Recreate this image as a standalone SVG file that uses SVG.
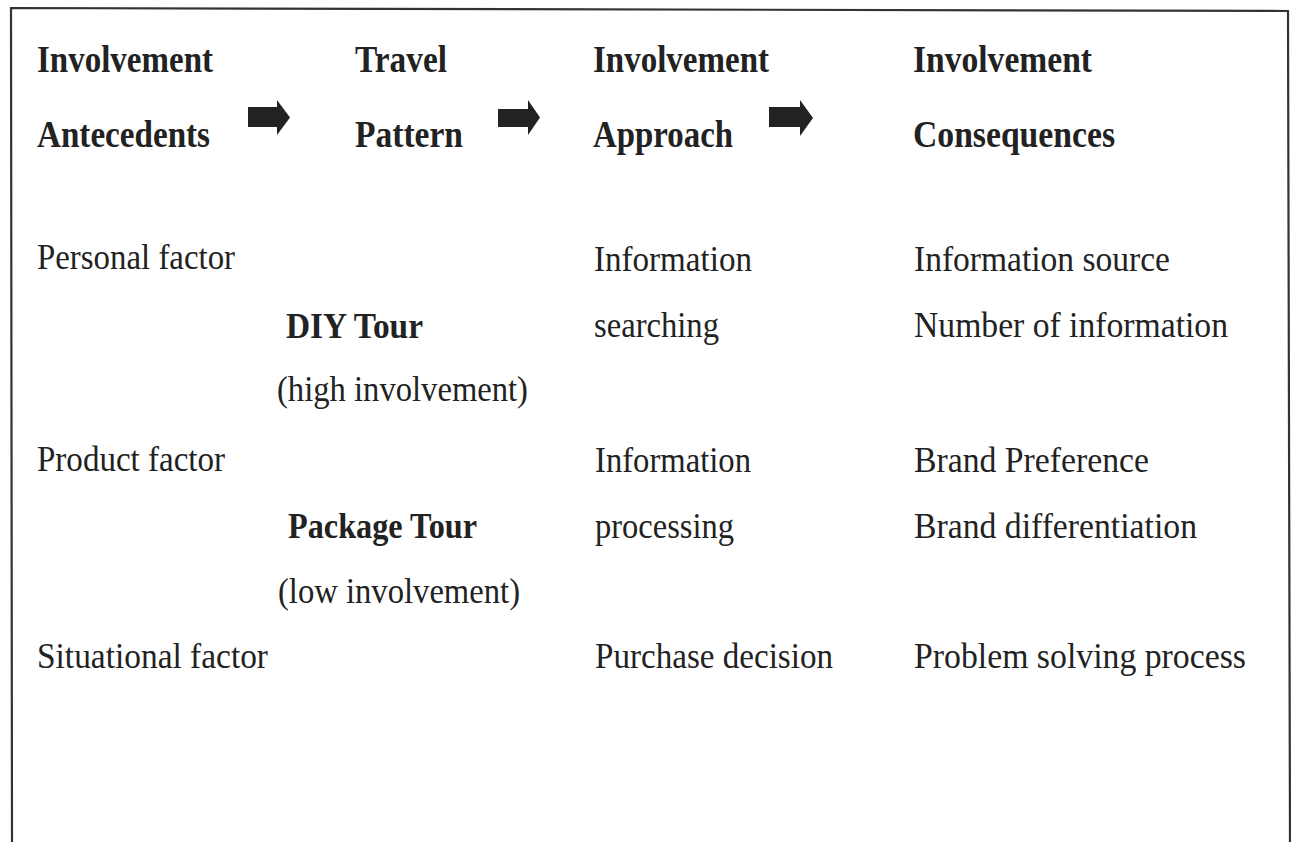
<svg xmlns="http://www.w3.org/2000/svg" width="1291" height="842" viewBox="0 0 1291 842">
<style>
text { font-family: "Liberation Serif", "Times New Roman", serif; fill: #222; }
.h { font-size: 37px; font-weight: bold; }
.b { font-size: 35px; font-weight: bold; }
.r { font-size: 35px; }
.frame { fill: none; stroke: #333; stroke-width: 2.2; }
.arrow { fill: #222; }
</style>
<rect x="0" y="0" width="1291" height="842" fill="#fff"/>
<path class="frame" d="M12,842 L11,8 L1288,11 L1290,842"/>

<g id="connectors">
  <path class="arrow" d="M248,107 L277,107 L277,100 L290,117.5 L277,135 L277,127 L248,127 Z"/>
  <path class="arrow" d="M498,109 L528,109 L528,100 L540,117.5 L528,135 L528,127 L498,127 Z"/>
  <path class="arrow" d="M769,107 L800,107 L800,100 L813,118 L800,136 L800,127 L769,127 Z"/>
</g>

<g id="header-antecedents">
  <text class="h" x="37" y="72" textLength="176" lengthAdjust="spacingAndGlyphs">Involvement</text>
  <text class="h" x="37" y="147" textLength="173" lengthAdjust="spacingAndGlyphs">Antecedents</text>
</g>
<g id="header-travel-pattern">
  <text class="h" x="355" y="72" textLength="92" lengthAdjust="spacingAndGlyphs">Travel</text>
  <text class="h" x="355" y="147" textLength="108" lengthAdjust="spacingAndGlyphs">Pattern</text>
</g>
<g id="header-approach">
  <text class="h" x="593" y="72" textLength="176" lengthAdjust="spacingAndGlyphs">Involvement</text>
  <text class="h" x="593" y="147" textLength="140" lengthAdjust="spacingAndGlyphs">Approach</text>
</g>
<g id="header-consequences">
  <text class="h" x="913" y="72" textLength="179" lengthAdjust="spacingAndGlyphs">Involvement</text>
  <text class="h" x="913" y="147" textLength="202" lengthAdjust="spacingAndGlyphs">Consequences</text>
</g>

<g id="personal-factor">
  <text class="r" x="37" y="269" textLength="198" lengthAdjust="spacingAndGlyphs">Personal factor</text>
</g>
<g id="product-factor">
  <text class="r" x="37" y="471" textLength="188" lengthAdjust="spacingAndGlyphs">Product factor</text>
</g>
<g id="situational-factor">
  <text class="r" x="37" y="668" textLength="231" lengthAdjust="spacingAndGlyphs">Situational factor</text>
</g>

<g id="diy-tour">
  <text class="b" x="286" y="338" textLength="137" lengthAdjust="spacingAndGlyphs">DIY Tour</text>
  <text class="r" x="277" y="401" textLength="251" lengthAdjust="spacingAndGlyphs">(high involvement)</text>
</g>
<g id="package-tour">
  <text class="b" x="288" y="538" textLength="189" lengthAdjust="spacingAndGlyphs">Package Tour</text>
  <text class="r" x="278" y="603" textLength="242" lengthAdjust="spacingAndGlyphs">(low involvement)</text>
</g>

<g id="information-searching">
  <text class="r" x="594" y="271" textLength="158" lengthAdjust="spacingAndGlyphs">Information</text>
  <text class="r" x="594" y="337" textLength="125" lengthAdjust="spacingAndGlyphs">searching</text>
</g>
<g id="information-processing">
  <text class="r" x="595" y="472" textLength="156" lengthAdjust="spacingAndGlyphs">Information</text>
  <text class="r" x="595" y="538" textLength="139" lengthAdjust="spacingAndGlyphs">processing</text>
</g>
<g id="purchase-decision">
  <text class="r" x="595" y="668" textLength="238" lengthAdjust="spacingAndGlyphs">Purchase decision</text>
</g>

<g id="information-consequences">
  <text class="r" x="914" y="271" textLength="256" lengthAdjust="spacingAndGlyphs">Information source</text>
  <text class="r" x="914" y="337" textLength="314" lengthAdjust="spacingAndGlyphs">Number of information</text>
</g>
<g id="brand-consequences">
  <text class="r" x="914" y="472" textLength="235" lengthAdjust="spacingAndGlyphs">Brand Preference</text>
  <text class="r" x="914" y="538" textLength="283" lengthAdjust="spacingAndGlyphs">Brand differentiation</text>
</g>
<g id="problem-solving">
  <text class="r" x="914" y="668" textLength="332" lengthAdjust="spacingAndGlyphs">Problem solving process</text>
</g>
</svg>
